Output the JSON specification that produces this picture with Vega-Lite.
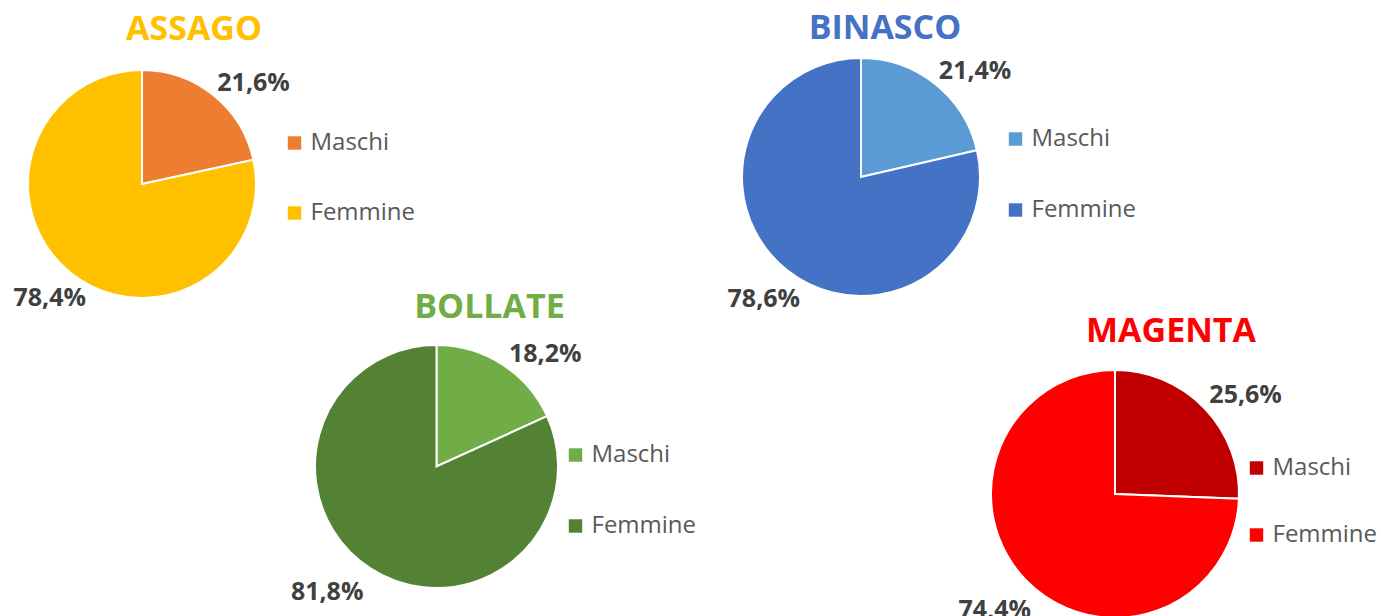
{
  "$schema": "https://vega.github.io/schema/vega-lite/v6.json",
  "padding": {"left": 13, "top": 11, "right": 0, "bottom": 0},
  "background": "white",
  "datasets": {
    "pop": [
      {"comune": "ASSAGO", "sesso": "Maschi", "valore": 21.6, "etichetta": "21,6%"},
      {"comune": "ASSAGO", "sesso": "Femmine", "valore": 78.4, "etichetta": "78,4%"},
      {"comune": "BINASCO", "sesso": "Maschi", "valore": 21.4, "etichetta": "21,4%"},
      {"comune": "BINASCO", "sesso": "Femmine", "valore": 78.6, "etichetta": "78,6%"},
      {"comune": "BOLLATE", "sesso": "Maschi", "valore": 18.2, "etichetta": "18,2%"},
      {"comune": "BOLLATE", "sesso": "Femmine", "valore": 81.8, "etichetta": "81,8%"},
      {"comune": "MAGENTA", "sesso": "Maschi", "valore": 25.6, "etichetta": "25,6%"},
      {"comune": "MAGENTA", "sesso": "Femmine", "valore": 74.4, "etichetta": "74,4%"}
    ]
  },
  "config": {
    "view": {"stroke": null},
    "font": "Open Sans",
    "title": {"font": "Open Sans", "fontSize": 34, "fontWeight": "bold", "anchor": "middle", "frame": "group", "baseline": "alphabetic"},
    "legend": {"symbolType": "square", "symbolSize": 180, "symbolStrokeWidth": 0, "labelFontSize": 24, "labelColor": "#595959", "labelFont": "Open Sans", "labelOffset": 4, "padding": 0, "orient": "none"},
    "text": {"font": "Open Sans", "fontSize": 25, "fontWeight": "bold", "color": "#404040"}
  },
  "bounds": "flush",
  "spacing": 287,
  "resolve": {"scale": {"color": "independent"}, "legend": {"color": "independent"}},
  "vconcat": [
    {
      "bounds": "flush",
      "spacing": 486,
      "resolve": {"scale": {"color": "independent"}, "legend": {"color": "independent"}},
      "hconcat": [
        {
          "width": 228, "height": 252,
          "data": {"name": "pop"},
          "transform": [{"filter": "datum.comune === 'ASSAGO'"}],
          "title": {"text": "ASSAGO", "color": "#FFC000", "dx": 52, "offset": 11},
          "layer": [
            {
              "mark": {"type": "arc", "stroke": "white", "strokeWidth": 2},
              "encoding": {
                "theta": {"field": "valore", "type": "quantitative", "stack": true},
                "color": {"field": "sesso", "type": "nominal", "scale": {"domain": ["Maschi", "Femmine"], "range": ["#ED7D31", "#FFC000"]}, "legend": {"title": null, "orient": "none", "legendX": 254.5, "legendY": 73, "rowPadding": 46}},
                "order": {"field": "sesso", "type": "nominal", "sort": "descending"}
              }
            },
            {
              "mark": {"type": "text", "radius": 120, "align": "left", "baseline": "alphabetic"},
              "encoding": {
                "theta": {"field": "valore", "type": "quantitative", "stack": true},
                "detail": {"field": "sesso", "type": "nominal"},
                "order": {"field": "sesso", "type": "nominal", "sort": "descending"},
                "size": {"condition": {"test": "datum.sesso === 'Maschi'", "value": 25}, "value": 0},
                "text": {"condition": {"test": "datum.sesso === 'Maschi'", "field": "etichetta", "type": "nominal"}, "value": ""}
              }
            },
            {
              "mark": {"type": "text", "radius": 147, "align": "center", "baseline": "middle"},
              "encoding": {
                "theta": {"field": "valore", "type": "quantitative", "stack": true},
                "detail": {"field": "sesso", "type": "nominal"},
                "order": {"field": "sesso", "type": "nominal", "sort": "descending"},
                "size": {"condition": {"test": "datum.sesso === 'Femmine'", "value": 25}, "value": 0},
                "text": {"condition": {"test": "datum.sesso === 'Femmine'", "field": "etichetta", "type": "nominal"}, "value": ""}
              }
            }
          ]
        },
        {
          "width": 238, "height": 238,
          "data": {"name": "pop"},
          "transform": [{"filter": "datum.comune === 'BINASCO'"}],
          "title": {"text": "BINASCO", "color": "#4472C4", "dx": 24, "offset": 8.5},
          "layer": [
            {
              "mark": {"type": "arc", "stroke": "white", "strokeWidth": 2},
              "encoding": {
                "theta": {"field": "valore", "type": "quantitative", "stack": true},
                "color": {"field": "sesso", "type": "nominal", "scale": {"domain": ["Maschi", "Femmine"], "range": ["#5B9BD5", "#4472C4"]}, "legend": {"title": null, "orient": "none", "legendX": 261.5, "legendY": 69, "rowPadding": 47}},
                "order": {"field": "sesso", "type": "nominal", "sort": "descending"}
              }
            },
            {
              "mark": {"type": "text", "radius": 125, "align": "left", "baseline": "alphabetic"},
              "encoding": {
                "theta": {"field": "valore", "type": "quantitative", "stack": true},
                "detail": {"field": "sesso", "type": "nominal"},
                "order": {"field": "sesso", "type": "nominal", "sort": "descending"},
                "size": {"condition": {"test": "datum.sesso === 'Maschi'", "value": 25}, "value": 0},
                "text": {"condition": {"test": "datum.sesso === 'Maschi'", "field": "etichetta", "type": "nominal"}, "value": ""}
              }
            },
            {
              "mark": {"type": "text", "radius": 156, "align": "center", "baseline": "middle"},
              "encoding": {
                "theta": {"field": "valore", "type": "quantitative", "stack": true},
                "detail": {"field": "sesso", "type": "nominal"},
                "order": {"field": "sesso", "type": "nominal", "sort": "descending"},
                "size": {"condition": {"test": "datum.sesso === 'Femmine'", "value": 25}, "value": 0},
                "text": {"condition": {"test": "datum.sesso === 'Femmine'", "field": "etichetta", "type": "nominal"}, "value": ""}
              }
            }
          ]
        }
      ]
    },
    {
      "bounds": "flush",
      "spacing": 146,
      "resolve": {"scale": {"color": "independent"}, "legend": {"color": "independent"}},
      "hconcat": [
        {
          "width": 817, "height": 243,
          "data": {"name": "pop"},
          "transform": [{"filter": "datum.comune === 'BOLLATE'"}],
          "title": {"text": "BOLLATE", "color": "#70AD47", "dx": 53, "offset": 16},
          "layer": [
            {
              "mark": {"type": "arc", "stroke": "white", "strokeWidth": 2},
              "encoding": {
                "theta": {"field": "valore", "type": "quantitative", "stack": true},
                "color": {"field": "sesso", "type": "nominal", "scale": {"domain": ["Maschi", "Femmine"], "range": ["#70AD47", "#548235"]}, "legend": {"title": null, "orient": "none", "legendX": 535.5, "legendY": 98, "rowPadding": 47}},
                "order": {"field": "sesso", "type": "nominal", "sort": "descending"}
              }
            },
            {
              "mark": {"type": "text", "radius": 134, "align": "left", "baseline": "middle"},
              "encoding": {
                "theta": {"field": "valore", "type": "quantitative", "stack": true},
                "detail": {"field": "sesso", "type": "nominal"},
                "order": {"field": "sesso", "type": "nominal", "sort": "descending"},
                "size": {"condition": {"test": "datum.sesso === 'Maschi'", "value": 25}, "value": 0},
                "text": {"condition": {"test": "datum.sesso === 'Maschi'", "field": "etichetta", "type": "nominal"}, "value": ""}
              }
            },
            {
              "mark": {"type": "text", "radius": 135, "align": "right", "baseline": "top"},
              "encoding": {
                "theta": {"field": "valore", "type": "quantitative", "stack": true},
                "detail": {"field": "sesso", "type": "nominal"},
                "order": {"field": "sesso", "type": "nominal", "sort": "descending"},
                "size": {"condition": {"test": "datum.sesso === 'Femmine'", "value": 25}, "value": 0},
                "text": {"condition": {"test": "datum.sesso === 'Femmine'", "field": "etichetta", "type": "nominal"}, "value": ""}
              }
            }
          ]
        },
        {
          "width": 248, "height": 298,
          "data": {"name": "pop"},
          "transform": [{"filter": "datum.comune === 'MAGENTA'"}],
          "title": {"text": "MAGENTA", "color": "#FF0000", "dx": 56, "offset": -4},
          "layer": [
            {
              "mark": {"type": "arc", "stroke": "white", "strokeWidth": 2},
              "encoding": {
                "theta": {"field": "valore", "type": "quantitative", "stack": true},
                "color": {"field": "sesso", "type": "nominal", "scale": {"domain": ["Maschi", "Femmine"], "range": ["#C00000", "#FF0000"]}, "legend": {"title": null, "orient": "none", "legendX": 253.5, "legendY": 111, "rowPadding": 43}},
                "order": {"field": "sesso", "type": "nominal", "sort": "descending"}
              }
            },
            {
              "mark": {"type": "text", "radius": 131, "align": "left", "baseline": "alphabetic"},
              "encoding": {
                "theta": {"field": "valore", "type": "quantitative", "stack": true},
                "detail": {"field": "sesso", "type": "nominal"},
                "order": {"field": "sesso", "type": "nominal", "sort": "descending"},
                "size": {"condition": {"test": "datum.sesso === 'Maschi'", "value": 25}, "value": 0},
                "text": {"condition": {"test": "datum.sesso === 'Maschi'", "field": "etichetta", "type": "nominal"}, "value": ""}
              }
            },
            {
              "mark": {"type": "text", "radius": 167, "align": "center", "baseline": "middle"},
              "encoding": {
                "theta": {"field": "valore", "type": "quantitative", "stack": true},
                "detail": {"field": "sesso", "type": "nominal"},
                "order": {"field": "sesso", "type": "nominal", "sort": "descending"},
                "size": {"condition": {"test": "datum.sesso === 'Femmine'", "value": 25}, "value": 0},
                "text": {"condition": {"test": "datum.sesso === 'Femmine'", "field": "etichetta", "type": "nominal"}, "value": ""}
              }
            }
          ]
        }
      ]
    }
  ]
}
